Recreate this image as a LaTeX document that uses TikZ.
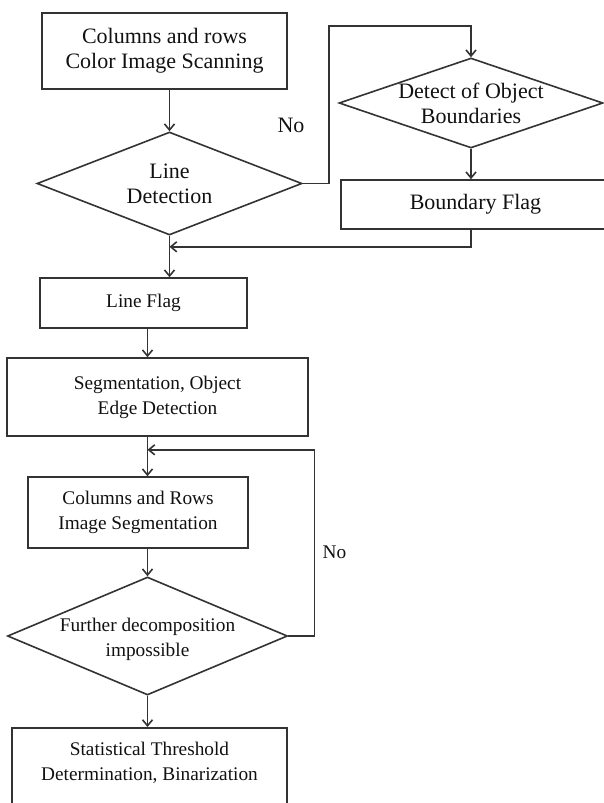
\documentclass[tikz,border=0pt]{standalone}
\usepackage{fontspec}
\setmainfont{Liberation Serif}
\usepackage{tikz}
\usetikzlibrary{positioning,arrows.meta,shapes.geometric,calc}
\definecolor{ink}{HTML}{111111}
\definecolor{ink2}{HTML}{333333}

\begin{document}
\begin{tikzpicture}[x=1pt, y=-1pt,
  big/.style={font=\fontsize{22}{25}\selectfont, text=ink},
  small/.style={font=\fontsize{19.3}{25}\selectfont, text=ink},
  box/.style={draw=ink2, line width=1.6pt, align=center, inner sep=0pt},
  dec/.style={draw=ink2, line width=1.6pt, shape=diamond, inner sep=0pt},
  arr/.style={-{Straight Barb[length=6pt,width=10pt]}, draw=ink2, line width=1.6pt}]
\useasboundingbox (0,0) rectangle (604,803);
\clip (0,0) rectangle (604,803);
% upper part: scanning and line test
\node[box, big, minimum width=245pt, minimum height=76pt] (scan) at (164.5,51) {Columns and rows\\Color Image Scanning};
\node[dec, minimum width=265pt, minimum height=103pt,
  label={[big, align=center]center:{Line\\Detection}}] (ldet) at (169.5,183.5) {};
\node[dec, minimum width=264pt, minimum height=90pt,
  label={[big, align=center]center:{Detect of Object\\Boundaries}}] (dob) at (471,103) {};
\node[box, big, minimum width=269pt, minimum height=49pt] (bflag) at (475.5,204.5) {Boundary Flag};
\node[big] (no1) at (291,125) {No};
% lower part: flags and segmentation
\node[box, small, minimum width=207pt, minimum height=50pt] (lflag) at (143.5,303) {Line Flag};
\node[box, small, minimum width=301pt, minimum height=78pt] (seg) at (157.5,397) {Segmentation, Object\\Edge Detection};
\node[box, small, minimum width=220pt, minimum height=71pt] (crseg) at (138,512.5) {Columns and Rows\\Image Segmentation};
\node[dec, minimum width=280pt, minimum height=118pt,
  label={[small, align=center, yshift=-3pt]center:{Further decomposition\\impossible}}] (fdec) at (147.5,636) {};
\node[box, minimum width=275pt, minimum height=100pt, anchor=north,
  label={[small, align=center, inner sep=0pt, anchor=north, yshift=-14.5pt]north:{Statistical Threshold\\Determination, Binarization}}] (thr) at (149.5,727) {};
\node[small] (no2) at (334.5,552) {No};
% merge points
\coordinate (m1) at ([yshift=-11pt]ldet.south);
\coordinate (m2) at ([yshift=-13pt]seg.south -| fdec.north);
% connectors
\draw[arr] (scan.south -| ldet.north) -- (ldet.north);
\draw[arr] (ldet.east) -- ++(26,0) |- ([yshift=31pt]dob.north) -- (dob.north);
\draw[arr] (dob.south) -- (dob.south |- bflag.north);
\draw[arr] (dob.south |- bflag.south) |- (m1);
\draw[arr] (ldet.south) -- (ldet.south |- lflag.north);
\draw[arr] (lflag.south -| fdec.north) -- (seg.north -| fdec.north);
\draw[arr] (seg.south -| fdec.north) -- (crseg.north -| fdec.north);
\draw[arr] (crseg.south -| fdec.north) -- (fdec.north);
\draw[arr] (fdec.east) -- ++(26,0) |- (m2);
\draw[arr] (fdec.south) -- (thr.north -| fdec.south);
\end{tikzpicture}
\end{document}
